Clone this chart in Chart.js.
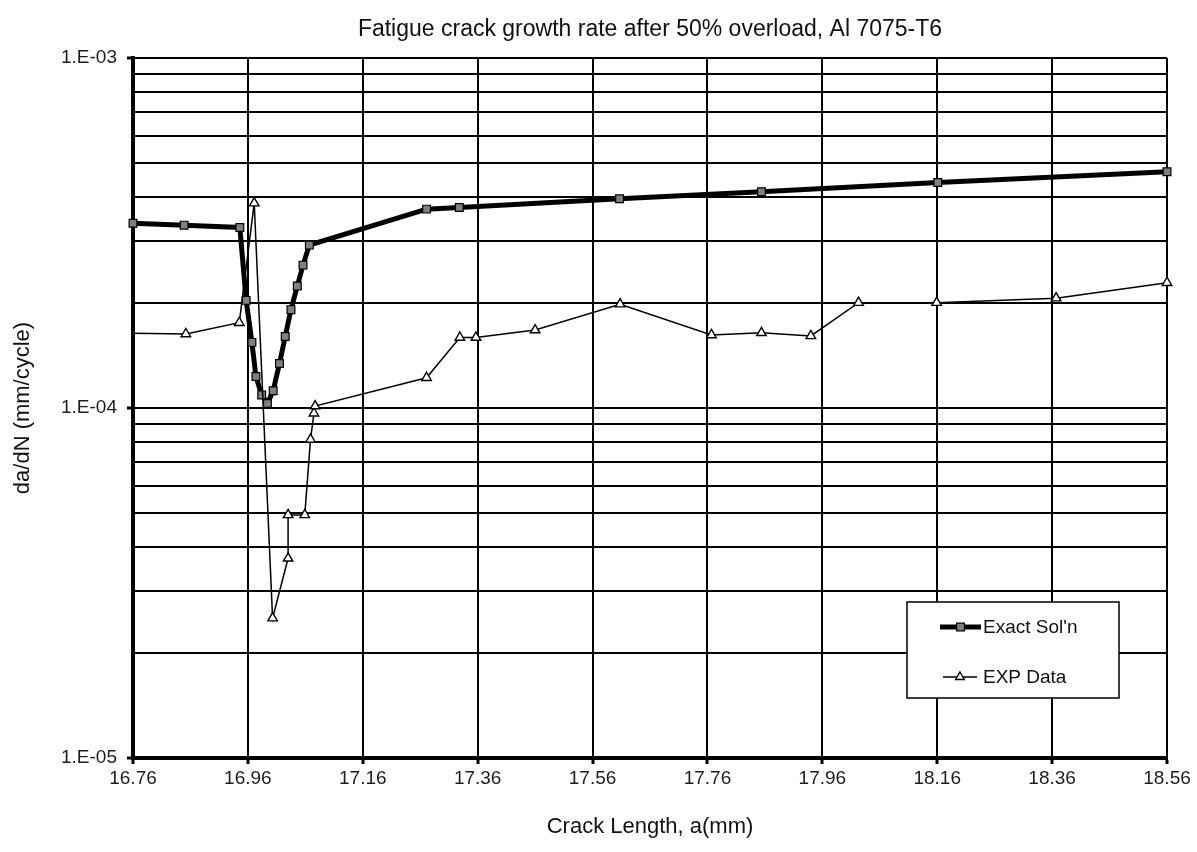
<!DOCTYPE html>
<html>
<head>
<meta charset="utf-8">
<title>Fatigue crack growth rate</title>
<script src="https://cdn.jsdelivr.net/npm/chart.js@4/dist/chart.umd.min.js"></script>
<style>
  html, body { margin: 0; padding: 0; background: #fff; }
  #wrap { width: 1197px; height: 852px; }
</style>
</head>
<body>
<div id="wrap"><canvas id="crackChart" width="1197" height="852"></canvas></div>
<script>
// crack length (mm) and da/dN (mm/cycle)
const exactX = [16.76, 16.849, 16.946, 16.957, 16.967, 16.974, 16.984, 16.994, 17.004, 17.015, 17.025,
  17.035, 17.046, 17.056, 17.067, 17.271, 17.328, 17.607, 17.854, 18.161, 18.56];
const exactY = [3.37e-4, 3.33e-4, 3.28e-4, 2.03e-4, 1.54e-4, 1.23e-4, 1.09e-4, 1.03e-4, 1.12e-4, 1.34e-4, 1.60e-4,
  1.91e-4, 2.23e-4, 2.56e-4, 2.92e-4, 3.70e-4, 3.74e-4, 3.96e-4, 4.15e-4, 4.41e-4, 4.73e-4];

const expX = [16.76, 16.852, 16.945, 16.971, 17.003, 17.030, 17.030, 17.059, 17.069, 17.075, 17.077,
  17.271, 17.329, 17.357, 17.46, 17.608, 17.767, 17.854, 17.94, 18.023, 18.159, 18.367, 18.56];
const expY = [1.635e-4, 1.627e-4, 1.753e-4, 3.85e-4, 2.51e-5, 3.72e-5, 4.95e-5, 4.95e-5, 8.13e-5, 9.66e-5, 1.013e-4,
  1.22e-4, 1.59e-4, 1.59e-4, 1.67e-4, 1.98e-4, 1.617e-4, 1.64e-4, 1.607e-4, 2.00e-4, 2.00e-4, 2.06e-4, 2.28e-4];

const xTicks = [16.76, 16.96, 17.16, 17.36, 17.56, 17.76, 17.96, 18.16, 18.36, 18.56];
const yMajorTicks = [1e-5, 1e-4, 1e-3];
const yMinorSteps = [2, 3, 4, 5, 6, 7, 8, 9];
const seriesNames = ["Exact Sol'n", "EXP Data"];

const FONT = "'Liberation Sans', Arial, sans-serif";

function toPoints(xs, ys) {
  return xs.map((x, i) => ({ x, y: ys[i] }));
}

// all decade gridline values: 1,2,...,9 x 10^n
function buildYTicks() {
  const vals = [];
  yMajorTicks.forEach((m, i) => {
    vals.push(m);
    if (i < yMajorTicks.length - 1) yMinorSteps.forEach(s => vals.push(+(s * m).toPrecision(3)));
  });
  return vals;
}

function isMajor(v) {
  return yMajorTicks.some(m => Math.abs(v / m - 1) < 1e-6);
}

function expLabel(v) {
  const e = Math.round(Math.log10(v));
  return "1.E" + (e < 0 ? "-" : "+") + String(Math.abs(e)).padStart(2, "0");
}

// legend box sits inside the plot, like the original
const boxLegend = {
  id: "boxLegend",
  afterDraw(chart) {
    const ctx = chart.ctx;
    const x0 = 907, y0 = 602, w = 212, h = 96;
    ctx.save();
    ctx.fillStyle = "#fff";
    ctx.fillRect(x0, y0, w, h);
    ctx.strokeStyle = "#000";
    ctx.lineWidth = 1.5;
    ctx.strokeRect(x0, y0, w, h);

    const rows = [
      { ds: chart.data.datasets[0], y: y0 + 25, x1: x0 + 33, x2: x0 + 74, r: 5.5 },
      { ds: chart.data.datasets[1], y: y0 + 75, x1: x0 + 36, x2: x0 + 70, r: 5 }
    ];
    rows.forEach(r => {
      ctx.strokeStyle = r.ds.borderColor;
      ctx.lineWidth = r.ds.borderWidth;
      ctx.beginPath();
      ctx.moveTo(r.x1, r.y);
      ctx.lineTo(r.x2, r.y);
      ctx.stroke();

      ctx.fillStyle = r.ds.pointBackgroundColor;
      ctx.strokeStyle = r.ds.pointBorderColor;
      ctx.lineWidth = r.ds.pointBorderWidth;
      Chart.helpers.drawPoint(ctx, {
        pointStyle: r.ds.pointStyle,
        radius: r.r,
        rotation: 0,
        borderWidth: r.ds.pointBorderWidth
      }, (r.x1 + r.x2) / 2, r.y);
    });

    ctx.fillStyle = "#111";
    ctx.font = "19px " + FONT;
    ctx.textBaseline = "middle";
    ctx.textAlign = "left";
    ctx.fillText(seriesNames[0], x0 + 76, rows[0].y + 1);
    ctx.fillText(seriesNames[1], x0 + 76, rows[1].y + 1);
    ctx.restore();
  }
};

const ctx = document.getElementById("crackChart").getContext("2d");

new Chart(ctx, {
  type: "line",
  data: {
    datasets: [
      {
        label: seriesNames[0],
        data: toPoints(exactX, exactY),
        borderColor: "#000",
        borderWidth: 5,
        pointStyle: "rect",
        pointRadius: 5.5,
        pointBackgroundColor: "#808080",
        pointBorderColor: "#000",
        pointBorderWidth: 1.2,
        tension: 0,
        clip: false,
        order: 2
      },
      {
        label: seriesNames[1],
        data: toPoints(expX, expY),
        borderColor: "#000",
        borderWidth: 1.5,
        pointStyle: "triangle",
        pointRadius: c => (c.dataIndex === 0 ? 0 : 5.5),
        pointBackgroundColor: "#fff",
        pointBorderColor: "#000",
        pointBorderWidth: 1.4,
        tension: 0,
        clip: false,
        order: 1
      }
    ]
  },
  options: {
    responsive: false,
    animation: false,
    layout: { padding: { left: 0, right: 30, top: 0, bottom: 0 } },
    plugins: {
      legend: { display: false },
      tooltip: { enabled: false },
      title: {
        display: true,
        fullSize: false, // center over the plot area, not the canvas
        text: "Fatigue crack growth rate after 50% overload, Al 7075-T6",
        color: "#111",
        font: { family: FONT, size: 23, weight: "normal" },
        padding: { top: 16, bottom: 14.4 }
      }
    },
    scales: {
      x: {
        type: "linear",
        min: 16.76,
        max: 18.56,
        afterBuildTicks: s => { s.ticks = xTicks.map(v => ({ value: v })); },
        afterFit: s => { s.height = 94; },
        ticks: {
          autoSkip: false,
          maxRotation: 0,
          color: "#1c1c28",
          padding: 3,
          font: { family: FONT, size: 19 },
          callback: v => v.toFixed(2)
        },
        grid: { color: "#000", lineWidth: 2, tickLength: 6, tickColor: "#000", tickWidth: 3 },
        border: { color: "#000", width: 4 },
        title: {
          display: true,
          text: "Crack Length, a(mm)",
          color: "#111",
          font: { family: FONT, size: 22 },
          padding: { top: 0, bottom: 12 }
        }
      },
      y: {
        type: "logarithmic",
        min: 1e-5,
        max: 1e-3,
        afterBuildTicks: s => { s.ticks = buildYTicks().map(v => ({ value: v, major: isMajor(v) })); },
        afterFit: s => { s.width = 133; },
        ticks: {
          autoSkip: false,
          color: "#1c1c28",
          padding: 10,
          font: { family: FONT, size: 19 },
          callback: v => (isMajor(v) ? expLabel(v) : "")
        },
        grid: {
          color: "#000",
          lineWidth: 2,
          tickLength: 6,
          tickWidth: 3,
          tickColor: c => (c.tick && isMajor(c.tick.value) ? "#000" : "rgba(0,0,0,0)")
        },
        border: { color: "#000", width: 4 },
        title: {
          display: true,
          text: "da/dN (mm/cycle)",
          color: "#111",
          font: { family: FONT, size: 22 },
          padding: { top: 10, bottom: 0 }
        }
      }
    }
  },
  plugins: [boxLegend]
});
</script>
</body>
</html>
